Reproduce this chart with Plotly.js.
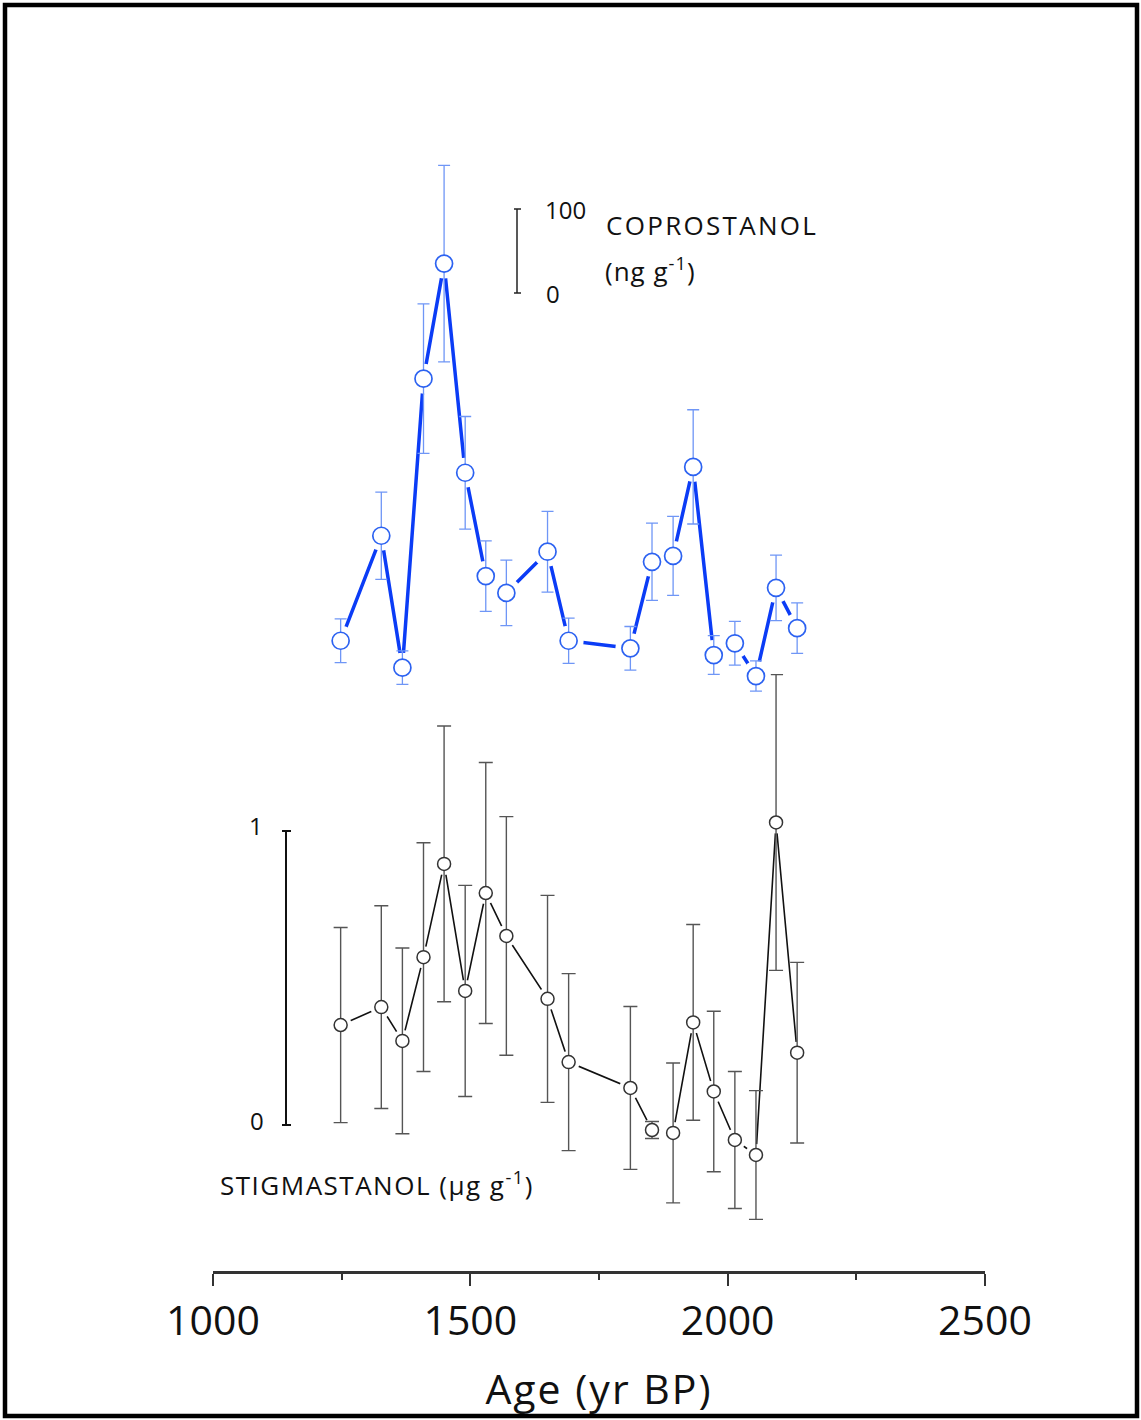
<!DOCTYPE html>
<html><head><meta charset="utf-8">
<script src="https://cdn.plot.ly/plotly-3.0.1.min.js"></script>
<style>html,body{margin:0;padding:0;background:#fff}#chart{width:1141px;height:1420px}</style>
</head><body><div id="chart"></div>
<script>
// ---- data ----
const ages = [1248,1327,1368,1409,1449,1490,1530,1570,1650,1691,1811,1853,1894,1933,1973,2014,2055,2094,2135];
const coprostanol = [86,211,54,398,535,286,163,143,192,86,77,180,187,293,69,83,44,149,101];
const coprostanolErr = [26,52,20,89,117,67,42,39,48,27,26,46,47,68,23,26,18,39,30];
const stigmastanol = [0.340,0.401,0.286,0.571,0.888,0.456,0.789,0.643,0.429,0.214,0.126,-0.017,-0.027,0.349,0.114,-0.051,-0.102,1.029,0.246];
const stigmastanolErr = [0.332,0.345,0.316,0.389,0.469,0.359,0.444,0.406,0.352,0.301,0.277,0.029,0.238,0.333,0.273,0.233,0.219,0.503,0.307];
const xTickVals = [1000,1500,2000,2500];
const xTickText = ['1000','1500','2000','2500'];
const coproScaleBar = [500,600];          // scale bar span (100 ng/g)
const coproScaleLabels = ['0','100'];
const stigScaleBar = [0,1];               // scale bar span (1 µg/g)
const stigScaleLabels = ['0','1'];

// ---- layout geometry (pixels) ----
const FW = 1141, FH = 1420;
const L = 213, R = 985, T = 100, B = 1271;
const px = x => (x - L) / (R - L);
const py = y => (B - y) / (B - T);
const FONT = '"Open Sans", "DejaVu Sans", sans-serif';
const spaced = (s, ls) => '<span style="letter-spacing:' + ls + 'px">' + s + '</span>';

// y2 (coprostanol): 0.84 px per unit, zero at pixel 713
const c2 = 0.84, z2 = 713;
// y (stigmastanol): 294 px per unit, zero at pixel 1125
const c1 = 294, z1 = 1125;

const BLUE_LINE = '#0b3cf6', BLUE_MK = '#2c62f1', BLUE_ERR = '#6f96f6';

const traces = [
  {x: ages, y: coprostanol, yaxis: 'y2', mode: 'lines', line: {color: BLUE_LINE, width: 3.5}, hoverinfo: 'skip', showlegend: false},
  {x: ages, y: coprostanol, yaxis: 'y2', mode: 'markers', marker: {size: 30, color: 'white', line: {width: 0}}, hoverinfo: 'skip', showlegend: false},
  {x: ages, y: coprostanol, yaxis: 'y2', mode: 'markers', name: 'Coprostanol',
   marker: {size: 17, color: 'white', line: {color: BLUE_MK, width: 1.7}},
   error_y: {type: 'data', array: coprostanolErr, visible: true, color: BLUE_ERR, thickness: 1.3, width: 6}, showlegend: false},
  {x: ages, y: stigmastanol, yaxis: 'y', mode: 'lines', line: {color: '#111', width: 1.6}, hoverinfo: 'skip', showlegend: false},
  {x: ages, y: stigmastanol, yaxis: 'y', mode: 'markers', marker: {size: 22, color: 'white', line: {width: 0}}, hoverinfo: 'skip', showlegend: false},
  {x: ages, y: stigmastanol, yaxis: 'y', mode: 'markers', name: 'Stigmastanol',
   marker: {size: 13, color: 'white', line: {color: '#333', width: 1.5}},
   error_y: {type: 'data', array: stigmastanolErr, visible: true, color: '#555', thickness: 1.4, width: 7}, showlegend: false}
];

const shapes = [
  {type: 'rect', xref: 'paper', yref: 'paper', x0: px(5), x1: px(1137), y0: py(1416), y1: py(5), line: {color: '#000', width: 4.5}},
  {type: 'line', xref: 'paper', yref: 'y2', x0: px(517), x1: px(517), y0: coproScaleBar[0], y1: coproScaleBar[1], line: {color: '#222', width: 1.5}},
  {type: 'line', xref: 'paper', yref: 'y2', x0: px(514), x1: px(521), y0: coproScaleBar[0], y1: coproScaleBar[0], line: {color: '#222', width: 1.5}},
  {type: 'line', xref: 'paper', yref: 'y2', x0: px(514), x1: px(521), y0: coproScaleBar[1], y1: coproScaleBar[1], line: {color: '#222', width: 1.5}},
  {type: 'line', xref: 'paper', yref: 'y', x0: px(286), x1: px(286), y0: stigScaleBar[0], y1: stigScaleBar[1], line: {color: '#111', width: 2}},
  {type: 'line', xref: 'paper', yref: 'y', x0: px(282), x1: px(291), y0: stigScaleBar[0], y1: stigScaleBar[0], line: {color: '#111', width: 2}},
  {type: 'line', xref: 'paper', yref: 'y', x0: px(282), x1: px(291), y0: stigScaleBar[1], y1: stigScaleBar[1], line: {color: '#111', width: 2}}
];

const tf = (s) => ({family: FONT, size: s, color: '#111'});
const annotations = [
  {xref: 'paper', yref: 'y2', x: px(543), y: coproScaleBar[1], text: coproScaleLabels[1], xanchor: 'left', yanchor: 'middle', showarrow: false, font: tf(24)},
  {xref: 'paper', yref: 'y2', x: px(544), y: coproScaleBar[0], text: coproScaleLabels[0], xanchor: 'left', yanchor: 'middle', showarrow: false, font: tf(24)},
  {xref: 'paper', yref: 'paper', x: px(604), y: py(225), text: spaced('COPROSTANOL', 2.3), xanchor: 'left', yanchor: 'middle', showarrow: false, font: tf(26)},
  {xref: 'paper', yref: 'paper', x: px(603), y: py(270), text: spaced('(ng g<sup>-1</sup>)', 1), xanchor: 'left', yanchor: 'middle', showarrow: false, font: tf(26)},
  {xref: 'paper', yref: 'y', x: px(265), y: stigScaleBar[1], yshift: 6, text: stigScaleLabels[1], xanchor: 'right', yanchor: 'middle', showarrow: false, font: tf(24)},
  {xref: 'paper', yref: 'y', x: px(266), y: stigScaleBar[0], yshift: 5, text: stigScaleLabels[0], xanchor: 'right', yanchor: 'middle', showarrow: false, font: tf(24)},
  {xref: 'paper', yref: 'paper', x: px(218), y: py(1184), text: spaced('STIGMASTANOL (µg g<sup>-1</sup>)', 1.5), xanchor: 'left', yanchor: 'middle', showarrow: false, font: tf(26)}
];

const layout = {
  width: FW, height: FH,
  margin: {l: L, r: FW - R, t: T, b: FH - B, pad: 0},
  paper_bgcolor: 'white', plot_bgcolor: 'white',
  showlegend: false,
  xaxis: {
    range: [1000, 2500], showgrid: false, zeroline: false,
    showline: true, linecolor: '#333', linewidth: 3,
    ticks: 'outside', ticklen: 12, tickwidth: 2, tickcolor: '#333',
    tickvals: xTickVals, ticktext: xTickText,
    minor: {ticks: 'outside', ticklen: 6, tickwidth: 2, tickcolor: '#333', dtick: 250, tick0: 1000, showgrid: false},
    tickfont: {family: FONT, size: 41, color: '#111'},
    title: {text: spaced('Age (yr BP)', 2), font: {family: FONT, size: 41, color: '#111'}, standoff: 30}
  },
  yaxis: {range: [(z1 - B) / c1, (z1 - T) / c1], visible: false, fixedrange: true},
  yaxis2: {range: [(z2 - B) / c2, (z2 - T) / c2], overlaying: 'y', visible: false, fixedrange: true},
  shapes: shapes,
  annotations: annotations
};

Plotly.newPlot('chart', traces, layout, {staticPlot: true, displayModeBar: false});
</script>
</body></html>
